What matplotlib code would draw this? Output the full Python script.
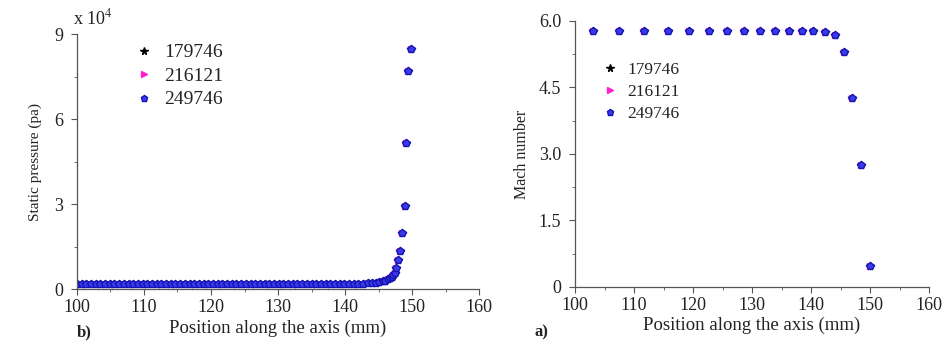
import matplotlib.pyplot as plt
from matplotlib.ticker import MultipleLocator, FuncFormatter

plt.rcParams['font.family'] = ['Liberation Serif', 'DejaVu Serif']
plt.rcParams['mathtext.fontset'] = 'stix'

# grid sizes (legend labels)
grids = ['179746', '216121', '249746']

# b) static pressure along the axis (Pa)
pos_p = [100.0, 100.7, 101.4, 102.1, 102.8, 103.5, 104.2, 104.9, 105.6, 106.3,
         107.0, 107.7, 108.4, 109.1, 109.8, 110.5, 111.2, 111.9, 112.6, 113.3,
         114.0, 114.7, 115.4, 116.1, 116.8, 117.5, 118.2, 118.9, 119.6, 120.3,
         121.0, 121.7, 122.4, 123.1, 123.8, 124.5, 125.2, 125.9, 126.6, 127.3,
         128.0, 128.7, 129.4, 130.1, 130.8, 131.5, 132.2, 132.9, 133.6, 134.3,
         135.0, 135.7, 136.4, 137.1, 137.8, 138.5, 139.2, 139.9, 140.6, 141.3,
         142.0, 142.7, 143.4, 144.0, 144.6, 145.1, 145.6, 146.0, 146.4, 146.7,
         147.0, 147.2, 147.4, 147.6, 147.9, 148.2, 148.5, 148.9, 149.1, 149.4,
         149.8]
pressure = [1800, 1800, 1800, 1800, 1800, 1800, 1800, 1800, 1800, 1800,
            1800, 1800, 1800, 1800, 1800, 1800, 1800, 1800, 1800, 1800,
            1800, 1800, 1800, 1800, 1800, 1800, 1800, 1800, 1800, 1800,
            1800, 1800, 1800, 1800, 1800, 1800, 1800, 1800, 1800, 1800,
            1800, 1800, 1800, 1800, 1800, 1800, 1800, 1800, 1800, 1800,
            1800, 1800, 1800, 1800, 1800, 1800, 1800, 1800, 1800, 1850,
            1900, 1950, 2000, 2100, 2250, 2450, 2700, 3000, 3400, 3800,
            4300, 4900, 5700, 7400, 10200, 13500, 19900, 29300, 51500, 76800,
            84800]

# a) Mach number along the axis
pos_m = [103.0, 107.5, 111.7, 115.7, 119.3, 122.7, 125.8, 128.7, 131.4, 133.9,
         136.3, 138.4, 140.3, 142.3, 144.0, 145.6, 147.0, 148.4, 150.0]
mach = [5.76, 5.76, 5.76, 5.76, 5.76, 5.76, 5.76, 5.76, 5.76, 5.76,
        5.76, 5.76, 5.76, 5.75, 5.67, 5.30, 4.25, 2.75, 0.48]

txt = '#222222'
styles = [dict(marker='*', color='black', ms=6),
          dict(marker='>', color='#ff1fd0', ms=5),
          dict(marker='p', color='#3a3ae8', mec='#1414b4', ms=5.5)]

fig = plt.figure(figsize=(9.49, 3.47), dpi=100)
ax1 = fig.add_axes([0.0811, 0.167, 0.4237, 0.735])
ax2 = fig.add_axes([0.606, 0.173, 0.373, 0.767])

for ax, x, y in [(ax1, pos_p, pressure), (ax2, pos_m, mach)]:
    for name, st in zip(grids, styles):
        ax.plot(x, y, linestyle='none', label=name, **st)
    for s in ['top', 'right']:
        ax.spines[s].set_visible(False)
    for s in ['left', 'bottom']:
        ax.spines[s].set_color('#555555')
        ax.spines[s].set_linewidth(0.9)
    ax.set_xlim(100, 160)
    ax.xaxis.set_major_locator(MultipleLocator(10))
    ax.xaxis.set_minor_locator(MultipleLocator(5))
    ax.tick_params(which='both', colors='#555555', labelcolor=txt, labelsize=13, direction='out')
    ax.tick_params(which='major', length=4)
    ax.tick_params(which='minor', length=2.5)
    ax.tick_params(axis='y', pad=6)
    ax.set_xlabel('Position along the axis (mm)', fontsize=13.5, color=txt, labelpad=2)

ax1.set_ylim(0, 90000)
ax1.yaxis.set_major_locator(MultipleLocator(30000))
ax1.yaxis.set_minor_locator(MultipleLocator(15000))
ax1.yaxis.set_major_formatter(FuncFormatter(lambda v, p: '%d' % round(v / 10000)))
ax1.set_ylabel('Static pressure (pa)', fontsize=11, color=txt, labelpad=9)
fig.text(0.077, 0.93, r'x 10$^4$', fontsize=13, color=txt)
ax1.legend(loc='upper left', bbox_to_anchor=(0.1, 1.03), frameon=False, fontsize=14,
           handlelength=1.0, handletextpad=0.5, labelspacing=0.3, markerscale=0.9,
           labelcolor=txt)

ax2.set_ylim(0, 6.0)
ax2.yaxis.set_major_locator(MultipleLocator(1.5))
ax2.yaxis.set_minor_locator(MultipleLocator(0.75))
ax2.yaxis.set_major_formatter(FuncFormatter(lambda v, p: '0' if v == 0 else '%.1f' % v))
ax2.set_ylabel('Mach number', fontsize=11.5, color=txt, labelpad=6)
ax2.legend(loc='upper left', bbox_to_anchor=(0.03, 0.905), frameon=False, fontsize=12.5,
           handlelength=1.0, handletextpad=0.5, labelspacing=0.35, markerscale=0.9,
           labelcolor=txt)

fig.text(0.081, 0.03, 'b)', fontsize=12, fontweight='bold', color=txt)
fig.text(0.563, 0.03, 'a)', fontsize=12, fontweight='bold', color=txt)

fig.savefig('out.png', dpi=100)
